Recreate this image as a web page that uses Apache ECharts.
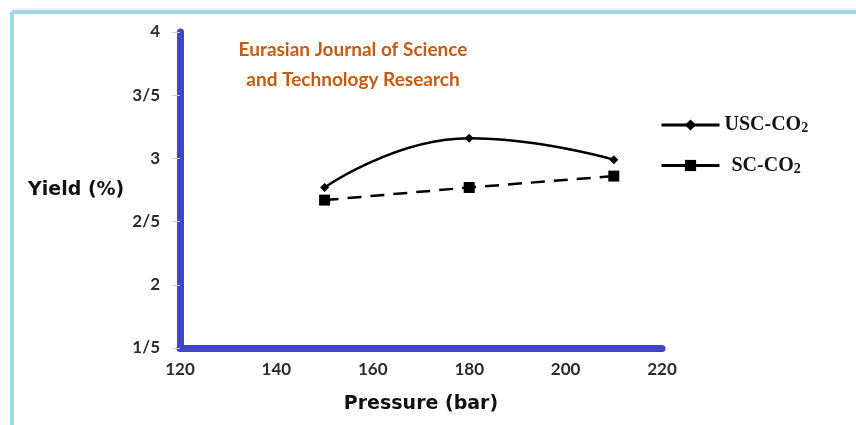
<!DOCTYPE html>
<html>
<head>
<meta charset="utf-8">
<script src="https://cdn.jsdelivr.net/npm/echarts@6/dist/echarts.min.js"></script>
<style>
  html, body { margin: 0; padding: 0; background: #fff; }
  #main { width: 856px; height: 425px; }
</style>
</head>
<body>
<div id="main"></div>
<script>
// Data
const pressure = [150, 180, 210];
const uscYield = [2.77, 3.16, 2.99];
const scYield = [2.67, 2.77, 2.86];
const seriesNames = ["USC-CO2", "SC-CO2"];
const xTicks = [120, 140, 160, 180, 200, 220];
const yTickLabels = ["1/5", "2", "2/5", "3", "3/5", "4"];

var myChart = echarts.init(document.getElementById("main"));

const axisBlue = "#3f47c9";
const tickFont = { fontFamily: "Lato", fontWeight: "bold", fontSize: 17, color: "#2b2b2b" };

var option = {
  animation: false,
  backgroundColor: "#fff",
  grid: { left: 180, right: 194, top: 32, bottom: 77 },
  legend: {
    orient: "vertical",
    left: 660,
    top: 115,
    padding: 0,
    itemWidth: 58,
    itemHeight: 14,
    itemGap: 20,
    data: seriesNames,
    lineStyle: { type: "solid", width: 3 },
    // second entry sits a little further right in the original
    formatter: (name) => (name === seriesNames[1] ? "{g|}" : "") + name.replace("2", "{s|2}"),
    textStyle: {
      fontFamily: "Liberation Serif",
      fontWeight: "bold",
      fontSize: 20,
      color: "#141414",
      rich: {
        g: { width: 7 },
        s: { fontFamily: "Liberation Serif", fontWeight: "bold", fontSize: 14, verticalAlign: "bottom", padding: [7, 0, 0, 0] }
      }
    }
  },
  graphic: [
    { type: "line", shape: { x1: 12, y1: 9, x2: 856, y2: 9 }, style: { stroke: "#e6e6e6", lineWidth: 1 } },
    { type: "line", shape: { x1: 12, y1: 12, x2: 856, y2: 12 }, style: { stroke: "#9dd7ea", lineWidth: 4 } },
    { type: "line", shape: { x1: 12, y1: 12, x2: 12, y2: 425 }, style: { stroke: "#9dd7ea", lineWidth: 4 } },
    {
      type: "text", x: 28, y: 190,
      style: { text: "Yield (%)", font: "bold 19px 'DejaVu Sans'", fill: "#111", verticalAlign: "middle" }
    },
    {
      type: "text", x: 353, y: 50,
      style: { text: "Eurasian Journal of Science", font: "bold 19px Lato", fill: "#c55a11", align: "center", verticalAlign: "middle" }
    },
    {
      type: "text", x: 353, y: 80,
      style: { text: "and Technology Research", font: "bold 19px Lato", fill: "#c55a11", align: "center", verticalAlign: "middle" }
    }
  ],
  xAxis: {
    type: "value",
    min: 120,
    max: 220,
    interval: 20,
    name: "Pressure (bar)",
    nameLocation: "middle",
    nameGap: 47,
    nameTextStyle: { fontFamily: "DejaVu Sans", fontWeight: "bold", fontSize: 19, color: "#111" },
    axisLine: { lineStyle: { color: axisBlue, width: 7, cap: "round" } },
    axisTick: { show: false },
    splitLine: { show: false },
    axisLabel: Object.assign({ margin: 13, formatter: (v) => (xTicks.includes(v) ? String(v) : "") }, tickFont)
  },
  yAxis: {
    type: "value",
    min: 1.5,
    max: 4,
    interval: 0.5,
    axisLine: { lineStyle: { color: axisBlue, width: 7, cap: "round" } },
    axisTick: { show: true, length: 8, lineStyle: { color: "#cfcfcf", width: 1 } },
    splitLine: { show: false },
    axisLabel: Object.assign({ margin: 20, formatter: (v, i) => yTickLabels[i] }, tickFont)
  },
  series: [
    {
      name: seriesNames[0],
      type: "line",
      smooth: true,
      data: pressure.map((p, i) => [p, uscYield[i]]),
      symbol: "diamond",
      symbolSize: 9,
      itemStyle: { color: "#000" },
      lineStyle: { color: "#000", width: 2.5 }
    },
    {
      name: seriesNames[1],
      type: "line",
      data: pressure.map((p, i) => [p, scYield[i]]),
      symbol: "rect",
      symbolSize: 11,
      itemStyle: { color: "#000" },
      lineStyle: { color: "#000", width: 2.5, type: [14, 9] }
    }
  ]
};

myChart.setOption(option);
</script>
</body>
</html>
